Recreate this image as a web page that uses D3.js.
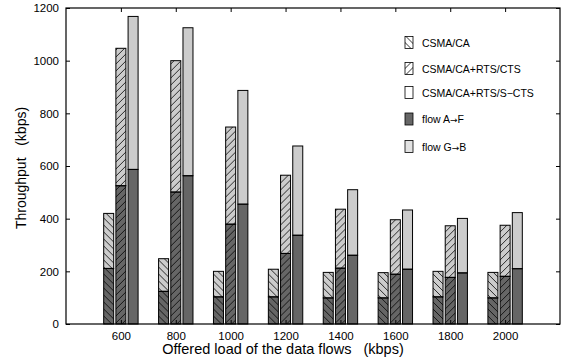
<!DOCTYPE html>
<html>
<head>
<meta charset="utf-8">
<script src="https://cdn.jsdelivr.net/npm/d3@7"></script>
<style>
  body { margin: 0; background: #fff; }
  svg { font-family: "Liberation Sans", Arial, sans-serif; }
  .title { white-space: pre; }
</style>
</head>
<body>
<div id="chart"></div>
<script>
// offered loads (kbps)
var loads = [600, 800, 1000, 1200, 1400, 1600, 1800, 2000];
var schemes = ["CSMA/CA", "CSMA/CA+RTS/CTS", "CSMA/CA+RTS/S\u2212CTS"];

// flow A->F throughput per scheme
var flowAF_ca  = [211, 124, 103, 103,  99,  99, 103,  99];
var flowAF_rts = [525, 501, 379, 268, 212, 189, 177, 181];
var flowAF_s   = [587, 563, 455, 337, 261, 208, 194, 210];
// total (A->F + G->B) per scheme
var total_ca  = [420, 248, 200, 208, 196, 195, 200, 196];
var total_rts = [1047, 1000, 748, 565, 436, 396, 373, 375];
var total_s   = [1168, 1125, 887, 676, 510, 433, 401, 423];

var yTicks = [0, 200, 400, 600, 800, 1000, 1200];

var W = 569, H = 362;
var margin = {top: 8, right: 9, bottom: 38, left: 66};
var width = W - margin.left - margin.right,
    height = H - margin.top - margin.bottom;

var svg = d3.select("#chart").append("svg")
    .attr("width", W).attr("height", H);

var defs = svg.append("defs");
function hatch(id, back) {
    var p = defs.append("pattern")
        .attr("id", id)
        .attr("patternUnits", "userSpaceOnUse")
        .attr("width", 7).attr("height", 7);
    if (back) {
        p.append("path").attr("d", "M0,0 L7,7 M-1,6 L1,8 M6,-1 L8,1");
    } else {
        p.append("path").attr("d", "M0,7 L7,0 M-1,1 L1,-1 M6,8 L8,6");
    }
    p.select("path").attr("stroke", "#000").attr("stroke-width", 0.8);
}
hatch("hatchBack", true);
hatch("hatchFwd", false);

var g = svg.append("g")
    .attr("transform", "translate(" + margin.left + "," + margin.top + ")");

var x = d3.scaleLinear().domain([400, 2200]).range([0, width]);
var y = d3.scaleLinear().domain([0, 1200]).range([height, 0]);

var darkCol = "#666666", lightCol = "#cccccc";
var barW = 10, step = 12.2;

var series = [
    {af: flowAF_ca,  tot: total_ca,  pat: "url(#hatchBack)", off: -1},
    {af: flowAF_rts, tot: total_rts, pat: "url(#hatchFwd)",  off: 0},
    {af: flowAF_s,   tot: total_s,   pat: null,              off: 1}
];

series.forEach(function(s) {
    var data = loads.map(function(l, i) { return {load: l, af: s.af[i], tot: s.tot[i]}; });
    var bars = g.append("g").selectAll("g")
        .data(data).enter().append("g")
        .attr("transform", function(d) {
            return "translate(" + (x(d.load) + s.off * step - barW / 2) + ",0)";
        });
    // flow G->B (top segment)
    bars.append("rect")
        .attr("y", function(d) { return y(d.tot); })
        .attr("height", function(d) { return y(d.af) - y(d.tot); })
        .attr("width", barW)
        .attr("fill", lightCol);
    // flow A->F (bottom segment)
    bars.append("rect")
        .attr("y", function(d) { return y(d.af); })
        .attr("height", function(d) { return y(0) - y(d.af); })
        .attr("width", barW)
        .attr("fill", darkCol);
    if (s.pat) {
        bars.append("rect")
            .attr("y", function(d) { return y(d.tot); })
            .attr("height", function(d) { return y(0) - y(d.tot); })
            .attr("width", barW)
            .attr("fill", s.pat);
    }
    // outlines
    bars.append("rect")
        .attr("y", function(d) { return y(d.tot); })
        .attr("height", function(d) { return y(d.af) - y(d.tot); })
        .attr("width", barW)
        .attr("fill", "none").attr("stroke", "#000").attr("stroke-width", 1);
    bars.append("rect")
        .attr("y", function(d) { return y(d.af); })
        .attr("height", function(d) { return y(0) - y(d.af); })
        .attr("width", barW)
        .attr("fill", "none").attr("stroke", "#000").attr("stroke-width", 1);
});

// axes, MATLAB style: ticks inside on all four sides
function styleAxis(sel) {
    sel.select(".domain").remove();
    sel.selectAll("text").attr("font-size", 11.5).attr("fill", "#000")
        .attr("font-family", "Liberation Sans, Arial, sans-serif");
    sel.selectAll("line").attr("stroke", "#000");
}
g.append("g").attr("transform", "translate(0," + height + ")")
    .call(d3.axisBottom(x).tickValues(loads).tickSizeInner(-4).tickPadding(8).tickFormat(d3.format("d")))
    .call(styleAxis);
g.append("g")
    .call(d3.axisTop(x).tickValues(loads).tickSizeInner(-4).tickFormat(""))
    .call(styleAxis);
g.append("g")
    .call(d3.axisLeft(y).tickValues(yTicks).tickSizeInner(-4).tickPadding(7).tickFormat(d3.format("d")))
    .call(styleAxis);
g.append("g").attr("transform", "translate(" + width + ",0)")
    .call(d3.axisRight(y).tickValues(yTicks).tickSizeInner(-4).tickFormat(""))
    .call(styleAxis);

g.append("rect")
    .attr("width", width).attr("height", height)
    .attr("fill", "none").attr("stroke", "#000").attr("stroke-width", 1.2);

// axis titles
svg.append("text").attr("class", "title")
    .attr("x", 283).attr("y", 354)
    .attr("text-anchor", "middle").attr("font-size", 14.5)
    .text("Offered load of the data flows   (kbps)");
svg.append("text").attr("class", "title")
    .attr("transform", "translate(26," + (margin.top + height / 2 + 2) + ") rotate(-90)")
    .attr("text-anchor", "middle").attr("font-size", 14)
    .text("Throughput   (kbps)");

// legend
var legendItems = [
    {label: "CSMA/CA", fill: "#fff", pat: "url(#hatchBack)"},
    {label: "CSMA/CA+RTS/CTS", fill: "#fff", pat: "url(#hatchFwd)"},
    {label: "CSMA/CA+RTS/S\u2212CTS", fill: "#fff", pat: null},
    {label: "flow A|F", fill: darkCol, pat: null},
    {label: "flow G|B", fill: "#e2e2e2", pat: null}
];
var legY = [42.5, 68.5, 92.5, 119, 146.5];
var leg = svg.append("g").selectAll("g")
    .data(legendItems).enter().append("g")
    .attr("transform", function(d, i) { return "translate(405," + legY[i] + ")"; });
leg.append("rect").attr("x", 0).attr("y", -6).attr("width", 8).attr("height", 12)
    .attr("fill", function(d) { return d.fill; });
leg.filter(function(d) { return d.pat; }).append("rect")
    .attr("x", 0).attr("y", -6).attr("width", 8).attr("height", 12)
    .attr("fill", function(d) { return d.pat; });
leg.append("rect").attr("x", 0).attr("y", -6).attr("width", 8).attr("height", 12)
    .attr("fill", "none").attr("stroke", "#000").attr("stroke-width", 0.8);
var lt = leg.append("text").attr("x", 17).attr("y", 4).attr("font-size", 10.5);
lt.each(function(d) {
    var t = d3.select(this);
    var parts = d.label.split("|");
    t.append("tspan").text(parts[0]);
    if (parts.length > 1) {
        t.append("tspan").attr("font-family", "DejaVu Sans").attr("font-size", 9).text("\u2192");
        t.append("tspan").text(parts[1]);
    }
});
</script>
</body>
</html>
